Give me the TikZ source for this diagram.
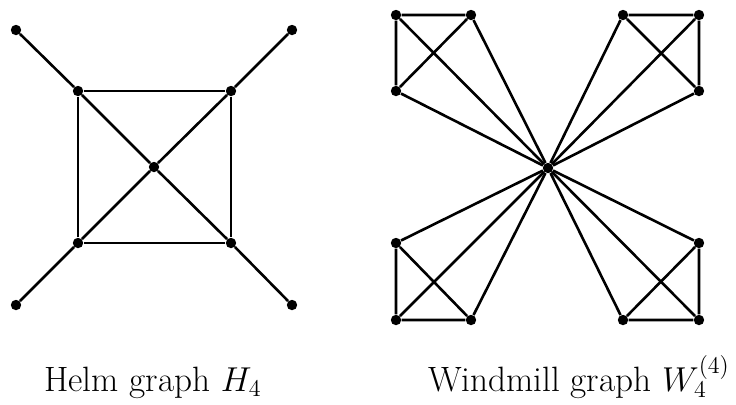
\documentclass[tikz,border=0pt]{standalone}
\begin{document}
\begin{tikzpicture}[x=0.5pt,y=-0.5pt,
  vtx/.style={circle,fill=black,inner sep=0pt,minimum size=5.2pt},
  edge/.style={line width=1.3pt},
  lbl/.style={font=\fontsize{17.6}{21}\selectfont,anchor=base}]
\useasboundingbox (0,0) rectangle (736,404);
% Helm graph
\node[vtx] (hc) at (154,167) {};
\node[vtx] (h1) at (78,91) {};
\node[vtx] (h2) at (231,91) {};
\node[vtx] (h3) at (231,243) {};
\node[vtx] (h4) at (78,243) {};
\node[vtx] (o1) at (16,30) {};
\node[vtx] (o2) at (292,30) {};
\node[vtx] (o3) at (292,305) {};
\node[vtx] (o4) at (16,305) {};
\draw[edge] (h1) -- (h2) -- (h3) -- (h4) -- (h1);
\draw[edge] (o1) -- (h1) -- (hc) -- (h3) -- (o3);
\draw[edge] (o2) -- (h2) -- (hc) -- (h4) -- (o4);
% Windmill graph
\node[vtx] (wc) at (548,168) {};
\node[vtx] (a1) at (396,15) {};
\node[vtx] (a2) at (471,15) {};
\node[vtx] (a3) at (396,91) {};
\node[vtx] (b1) at (623,15) {};
\node[vtx] (b2) at (699,15) {};
\node[vtx] (b3) at (699,91) {};
\node[vtx] (c1) at (396,243) {};
\node[vtx] (c2) at (396,320) {};
\node[vtx] (c3) at (471,320) {};
\node[vtx] (d1) at (699,243) {};
\node[vtx] (d2) at (623,320) {};
\node[vtx] (d3) at (699,320) {};
\foreach \p in {a,b,c,d}{
  \draw[edge] (\p1) -- (\p2) -- (\p3) -- (\p1);
  \draw[edge] (wc) -- (\p1);
  \draw[edge] (wc) -- (\p2);
  \draw[edge] (wc) -- (\p3);
}
% Labels
\node[lbl] (lh) at (153,391) {Helm graph $H_4$};
\node[lbl] (lw) at (579,391) {Windmill graph $W_4^{(4)}$};
\end{tikzpicture}
\end{document}
